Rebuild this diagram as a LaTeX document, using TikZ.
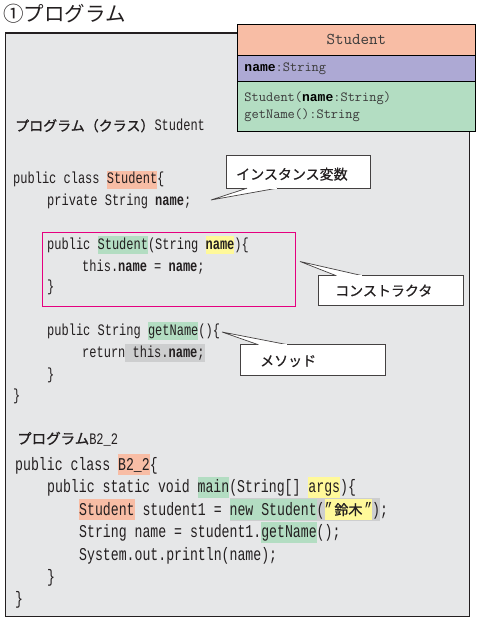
\documentclass[tikz,border=0pt]{standalone}
\usepackage{fontspec}
\usetikzlibrary{calc}
\newfontfamily\jp{Noto Sans CJK JP}
\newfontfamily\jpb[FakeBold=1]{Noto Sans CJK JP}
\newfontfamily\jpm[FakeBold=0.6]{Noto Sans CJK JP}
\newfontfamily\codeA[FakeStretch=0.75]{Liberation Mono}
\newfontfamily\codeB[FakeStretch=0.733]{Liberation Mono}
\newfontfamily\umlbold{Liberation Mono}
\definecolor{ink}{HTML}{231F20}
\definecolor{umlink}{HTML}{3A3A3A}
\definecolor{panelbg}{HTML}{E6E7E8}
\definecolor{salmon}{HTML}{F8BDA5}
\definecolor{lilac}{HTML}{ADA9D4}
\definecolor{mint}{HTML}{B3DDC2}
\definecolor{hlyellow}{HTML}{FFF99A}
\definecolor{hlgray}{HTML}{CDCECF}
\definecolor{ctorpink}{HTML}{E5007F}
\newcommand\hlA[2]{{\setlength{\fboxsep}{0pt}\colorbox{#1}{\rule[-5pt]{0pt}{18pt}#2}}}
\newcommand\hlB[2]{{\setlength{\fboxsep}{0pt}\colorbox{#1}{\rule[-5pt]{0pt}{21pt}#2}}}
\newcommand\hlG[2]{{\setlength{\fboxsep}{0pt}\colorbox{#1}{\rule[-6pt]{0pt}{23pt}#2}}}
\newcommand\umlname{{\umlbold\bfseries\fontsize{13}{13}\selectfont\color{black}name}}
\tikzset{
  codeAline/.style={anchor=base west, inner sep=0pt, text=ink, font=\codeA\fontsize{16}{16}\selectfont},
  codeBline/.style={anchor=base west, inner sep=0pt, text=ink, font=\codeB\fontsize{18}{18}\selectfont},
  callbox/.style={draw=ink!85, line width=0.8pt, fill=white, anchor=north west, inner sep=0pt},
  calltext/.style={anchor=base west, inner sep=0pt, text=ink, font=\jpm\fontsize{14}{14}\selectfont},
  wedge/.style={draw=ink!85, line width=0.7pt, fill=white},
  umlbox/.style={draw=black, line width=0.9pt, anchor=north west, inner sep=0pt, minimum width=238pt, text=umlink},
  heading/.style={anchor=base west, inner sep=0pt, text=ink}
}
\begin{document}
\begin{tikzpicture}[x=1pt,y=-1pt]
\useasboundingbox (0,0) rectangle (476,617);
\fill[white] (0,0) rectangle (476,617);

% title
\node[heading, font=\jp\fontsize{20.5}{20.5}\selectfont] (title) at (3,22) {①プログラム};

% panel
\node[draw=ink, line width=1.2pt, fill=panelbg, anchor=north west, minimum width=464pt, minimum height=583pt, inner sep=0pt] (panel) at (4.5,32.5) {};

% UML class box
\node[umlbox, fill=salmon, minimum height=31pt, font=\ttfamily\fontsize{16.5}{16.5}\selectfont] (uhead) at (237,24) {Student};
\node[umlbox, fill=lilac, minimum height=26pt, text width=224pt, inner xsep=7pt, align=left, font=\ttfamily\fontsize{14}{17}\selectfont] (uattr) at (237,55) {\umlname:String};
\node[umlbox, fill=mint, minimum height=50pt, text width=224pt, inner xsep=7pt, align=left, font=\ttfamily\fontsize{14}{17}\selectfont] (umeth) at (237,81) {Student(\umlname:String)\\getName():String};

% headings
\node[heading] (h1) at (15,131) {{\jpb\fontsize{14}{14}\selectfont プログラム（クラス）}{\codeA\fontsize{16}{16}\selectfont Student}};
\node[heading] (h2) at (17,444) {{\jpb\fontsize{14.5}{14.5}\selectfont プログラム}{\codeA\fontsize{16}{16}\selectfont B2\_2}};

% constructor frame
\node[draw=ctorpink, line width=0.9pt, anchor=north west, minimum width=253pt, minimum height=74pt, inner sep=0pt] (ctor) at (42,232) {};

% program 1
\node[codeAline] (a1) at (13,184) {public class \hlA{salmon}{Student}\{};
\node[codeAline] (a2) at (47,206) {private String \textbf{name};};
\node[codeAline] (a3) at (47,249) {public \hlA{mint}{Student}(String \hlA{hlyellow}{\textbf{name}})\{};
\node[codeAline] (a4) at (82,271) {this.\textbf{name} = \textbf{name};};
\node[codeAline] (a5) at (47,291) {\}};
\node[codeAline] (a6) at (47,335) {public String \hlA{mint}{getName}()\{};
\node[codeAline] (a7) at (82,357) {return\hlA{hlgray}{ this.\textbf{name};}};
\node[codeAline] (a8) at (47,379) {\}};
\node[codeAline] (a9) at (13,400) {\}};

% program 2
\node[codeBline] (b1) at (15,470) {public class \hlB{salmon}{B2\_2}\{};
\node[codeBline] (b2) at (47,492.5) {public static void \hlB{mint}{main}(String[] \hlB{hlyellow}{args})\{};
\node[codeBline] (b3) at (79,515) {\hlB{salmon}{Student} student1 = \hlG{hlgray}{\hlB{mint}{new Student}(\hlB{hlyellow}{”\makebox[31.7pt]{\jpb\fontsize{14}{14}\selectfont 鈴木}”})};};
\node[codeBline] (b4) at (79,537.5) {String name = student1.\hlB{mint}{getName}();};
\node[codeBline] (b5) at (79,560) {System.out.println(name);};
\node[codeBline] (b6) at (47,582) {\}};
\node[codeBline] (b7) at (15,604) {\}};

% callout 1: instance variable
\node[callbox, minimum width=144pt, minimum height=33pt] (c1) at (226,155) {};
\coordinate (t1) at (211,200);
\path[wedge] ($(c1.south west)+(21,-0.6)$) -- (t1) -- ($(c1.south west)+(51,-0.6)$);
\fill[white] ($(c1.south west)+(21.5,-1)$) rectangle ($(c1.south west)+(50.5,0.45)$);
\node[calltext] (c1t) at (236,179.5) {インスタンス変数};

% callout 2: constructor
\node[callbox, minimum width=145pt, minimum height=30pt] (c2) at (318,275) {};
\coordinate (t2) at (300,261.5);
\path[wedge] ($(c2.north west)+(18,0.6)$) -- (t2) -- ($(c2.north west)+(44,0.6)$);
\fill[white] ($(c2.north west)+(18.5,-0.45)$) rectangle ($(c2.north west)+(43.5,1)$);
\node[calltext] (c2t) at (335,296) {コンストラクタ};

% callout 3: method
\node[callbox, minimum width=145pt, minimum height=31pt] (c3) at (240,344) {};
\coordinate (t3) at (222,332);
\path[wedge] ($(c3.north west)+(18,0.6)$) -- (t3) -- ($(c3.north west)+(47,0.6)$);
\fill[white] ($(c3.north west)+(18.5,-0.45)$) rectangle ($(c3.north west)+(46.5,1)$);
\node[calltext] (c3t) at (260,366) {メソッド};
\end{tikzpicture}
\end{document}
